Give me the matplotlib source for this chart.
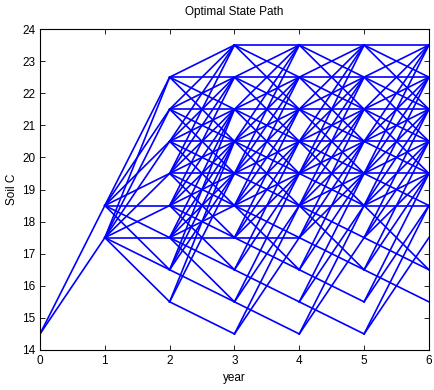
import matplotlib
matplotlib.use('Agg')
import matplotlib.pyplot as plt

plt.rcParams['font.family'] = ['Liberation Sans', 'DejaVu Sans']
plt.rcParams['font.size'] = 8.5

# optimal transitions (soil C at year t -> soil C at year t+1)
step_0 = [(14.5, 17.5), (14.5, 18.5)]

step_1 = [(18.5, 22.5), (18.5, 21.5), (18.5, 20.5), (18.5, 19.5), (18.5, 18.5),
          (18.5, 17.5), (18.5, 16.5),
          (17.5, 22.5), (17.5, 21.5), (17.5, 20.5), (17.5, 19.5), (17.5, 18.5),
          (17.5, 17.5), (17.5, 16.5), (17.5, 15.5)]

step_2 = [(22.5, 23.5), (22.5, 22.5), (22.5, 21.5), (22.5, 20.5),
          (21.5, 23.5), (21.5, 22.5), (21.5, 21.5), (21.5, 20.5), (21.5, 19.5),
          (20.5, 23.5), (20.5, 22.5), (20.5, 21.5), (20.5, 20.5), (20.5, 19.5), (20.5, 18.5),
          (19.5, 23.5), (19.5, 22.5), (19.5, 21.5), (19.5, 20.5), (19.5, 19.5), (19.5, 18.5),
          (19.5, 17.5),
          (18.5, 22.5), (18.5, 21.5), (18.5, 20.5), (18.5, 19.5), (18.5, 18.5), (18.5, 17.5),
          (18.5, 16.5),
          (17.5, 21.5), (17.5, 20.5), (17.5, 19.5), (17.5, 18.5), (17.5, 17.5), (17.5, 16.5),
          (17.5, 15.5),
          (16.5, 21.5), (16.5, 20.5), (16.5, 19.5), (16.5, 15.5),
          (15.5, 20.5), (15.5, 19.5), (15.5, 14.5)]

step_3 = [(23.5, 23.5), (23.5, 22.5), (23.5, 21.5),
          (22.5, 23.5), (22.5, 22.5), (22.5, 21.5), (22.5, 20.5),
          (21.5, 23.5), (21.5, 22.5), (21.5, 21.5), (21.5, 20.5), (21.5, 19.5),
          (20.5, 23.5), (20.5, 22.5), (20.5, 21.5), (20.5, 20.5), (20.5, 19.5), (20.5, 18.5),
          (19.5, 23.5), (19.5, 22.5), (19.5, 21.5), (19.5, 20.5), (19.5, 19.5), (19.5, 18.5),
          (18.5, 22.5), (18.5, 21.5), (18.5, 20.5), (18.5, 19.5), (18.5, 18.5), (18.5, 17.5),
          (18.5, 16.5),
          (17.5, 21.5), (17.5, 20.5), (17.5, 19.5), (17.5, 17.5), (17.5, 16.5),
          (16.5, 20.5), (16.5, 19.5), (16.5, 15.5),
          (15.5, 19.5), (15.5, 18.5), (15.5, 14.5),
          (14.5, 18.5), (14.5, 17.5)]

step_4 = [(23.5, 23.5), (23.5, 22.5), (23.5, 21.5),
          (22.5, 23.5), (22.5, 22.5), (22.5, 21.5), (22.5, 20.5),
          (21.5, 23.5), (21.5, 22.5), (21.5, 21.5), (21.5, 20.5), (21.5, 19.5),
          (20.5, 23.5), (20.5, 22.5), (20.5, 21.5), (20.5, 20.5), (20.5, 19.5), (20.5, 18.5),
          (19.5, 23.5), (19.5, 22.5), (19.5, 21.5), (19.5, 20.5), (19.5, 19.5), (19.5, 18.5),
          (18.5, 22.5), (18.5, 21.5), (18.5, 20.5), (18.5, 19.5), (18.5, 18.5), (18.5, 17.5),
          (18.5, 16.5),
          (17.5, 21.5), (17.5, 20.5), (17.5, 19.5), (17.5, 16.5),
          (16.5, 20.5), (16.5, 19.5), (16.5, 15.5),
          (15.5, 19.5), (15.5, 18.5), (15.5, 14.5),
          (14.5, 18.5), (14.5, 17.5)]

step_5 = [(23.5, 23.5), (23.5, 22.5), (23.5, 21.5),
          (22.5, 23.5), (22.5, 22.5), (22.5, 21.5), (22.5, 20.5),
          (21.5, 23.5), (21.5, 22.5), (21.5, 21.5), (21.5, 20.5), (21.5, 19.5),
          (20.5, 23.5), (20.5, 22.5), (20.5, 21.5), (20.5, 20.5), (20.5, 19.5),
          (19.5, 23.5), (19.5, 22.5), (19.5, 21.5), (19.5, 20.5), (19.5, 19.5), (19.5, 18.5),
          (18.5, 22.5), (18.5, 21.5), (18.5, 20.5), (18.5, 19.5), (18.5, 18.5), (18.5, 16.5),
          (17.5, 21.5), (17.5, 20.5), (17.5, 19.5), (17.5, 16.5),
          (16.5, 20.5), (16.5, 19.5), (16.5, 15.5),
          (15.5, 19.5), (15.5, 18.5),
          (14.5, 18.5), (14.5, 17.5)]

steps = [step_0, step_1, step_2, step_3, step_4, step_5]

fig = plt.figure(figsize=(4.35, 3.9), dpi=100)
ax = fig.add_axes([0.092, 0.1026, 0.894, 0.823])

for year, step in enumerate(steps):
    for a, b in step:
        ax.plot([year, year + 1], [a, b], color='#0000ff', linewidth=1.2)

ax.set_xlim(0, 6)
ax.set_ylim(14, 24)
ax.set_xticks(range(0, 7))
ax.set_yticks(range(14, 25))
ax.tick_params(direction='in', top=True, right=True, length=3.5, width=0.6)
for s in ax.spines.values():
    s.set_linewidth(0.8)

ax.set_title('Optimal State Path', fontsize=8.5, pad=10)
ax.set_xlabel('year', labelpad=4)
ax.set_ylabel('Soil C', labelpad=3)

fig.savefig('out.png', dpi=100)
